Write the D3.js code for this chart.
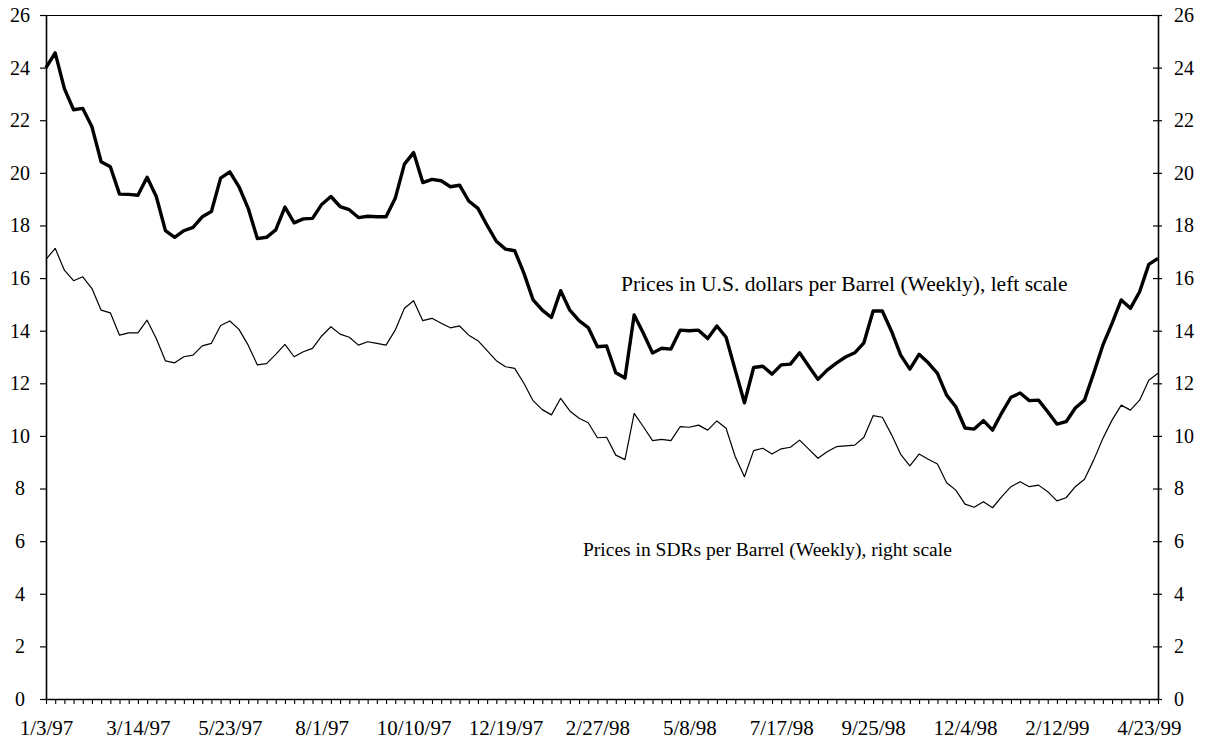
<!DOCTYPE html>
<html>
<head>
<meta charset="utf-8">
<script src="https://cdn.jsdelivr.net/npm/d3@7"></script>
<style>
  html, body { margin: 0; padding: 0; background: #fff; }
  svg { display: block; }
  text { font-family: "Liberation Serif", "Times New Roman", serif; fill: #000; }
</style>
</head>
<body>
<svg id="chart" width="1209" height="744"></svg>
<script>
// ---- data ----
const startDate = "1997-01-03";   // first weekly observation (Friday)
const weekCount = 122;            // weekly observations 1/3/97 .. 4/30/99

const usdPrices = [
  24.0, 24.56, 23.2, 22.4, 22.45, 21.75, 20.42, 20.23, 19.19, 19.18,
  19.15, 19.83, 19.1, 17.8, 17.55, 17.8, 17.93, 18.33, 18.53, 19.8,
  20.04, 19.47, 18.65, 17.5, 17.55, 17.83, 18.7, 18.1, 18.25, 18.27,
  18.8, 19.1, 18.72, 18.6, 18.3, 18.35, 18.33, 18.33, 19.03, 20.33,
  20.77, 19.63, 19.75, 19.7, 19.47, 19.53, 18.93, 18.65, 18.0, 17.4,
  17.1, 17.04, 16.19, 15.17, 14.78, 14.5, 15.52, 14.78, 14.38, 14.12,
  13.39, 13.42, 12.4, 12.2, 14.6, 13.9, 13.15, 13.33, 13.3, 14.02,
  14.0, 14.02, 13.7, 14.18, 13.75, 12.5, 11.26, 12.6, 12.65, 12.35,
  12.7, 12.73, 13.16, 12.65, 12.15, 12.5, 12.77, 13.0, 13.16, 13.54,
  14.75, 14.75, 13.98, 13.07, 12.54, 13.1, 12.78, 12.38, 11.55, 11.11,
  10.3, 10.26, 10.58, 10.22, 10.88, 11.47, 11.63, 11.34, 11.36, 10.92,
  10.45, 10.54, 11.06, 11.36, 12.38, 13.45, 14.28, 15.17, 14.85, 15.48,
  16.52, 16.75
];

const sdrPrices = [
  16.71, 17.13, 16.3, 15.9, 16.05, 15.6, 14.78, 14.68, 13.83, 13.92,
  13.92, 14.4, 13.7, 12.85, 12.78, 13.01, 13.07, 13.42, 13.52, 14.2,
  14.37, 14.05, 13.45, 12.7, 12.75, 13.1, 13.48, 13.01, 13.2, 13.33,
  13.8, 14.15, 13.87, 13.75, 13.45, 13.58, 13.52, 13.45, 14.02, 14.85,
  15.14, 14.38, 14.47, 14.28, 14.11, 14.18, 13.83, 13.62, 13.24, 12.86,
  12.63, 12.57, 12.0, 11.34, 11.0, 10.8, 11.43, 10.95, 10.67, 10.5,
  9.93, 9.95, 9.27, 9.1, 10.86, 10.35, 9.82, 9.87, 9.82, 10.35,
  10.33, 10.41, 10.22, 10.57, 10.29, 9.21, 8.45, 9.44, 9.53, 9.31,
  9.51, 9.57, 9.84, 9.5, 9.15, 9.4, 9.59, 9.62, 9.65, 9.95,
  10.77, 10.71, 10.05, 9.3, 8.86, 9.31, 9.11, 8.93, 8.22, 7.94,
  7.41, 7.29, 7.5, 7.27, 7.69, 8.07, 8.26, 8.07, 8.13, 7.88,
  7.53, 7.65, 8.07, 8.35, 9.08, 9.9, 10.6, 11.17, 10.98, 11.36,
  12.12, 12.38
];

const xTickLabels = ["1/3/97", "3/14/97", "5/23/97", "8/1/97", "10/10/97", "12/19/97",
  "2/27/98", "5/8/98", "7/17/98", "9/25/98", "12/4/98", "2/12/99", "4/23/99"];
const yTicks = [0, 2, 4, 6, 8, 10, 12, 14, 16, 18, 20, 22, 24, 26];

const usdLabel = "Prices in U.S. dollars per Barrel (Weekly), left scale";
const sdrLabel = "Prices in SDRs per Barrel (Weekly), right scale";

// ---- layout ----
const svg = d3.select("#chart");
const plotL = 46, plotR = 1158, plotT = 15, plotB = 699;

const start = d3.timeParse("%Y-%m-%d")(startDate);
const weeks = d3.range(weekCount).map(i => d3.timeWeek.offset(start, i));
const parseLabel = d3.timeParse("%m/%d/%y");

const x = d3.scaleTime().domain([weeks[0], weeks[weeks.length - 1]]).range([plotL, plotR]);
const yL = d3.scaleLinear().domain([0, 26]).range([plotB, plotT]);
const yR = d3.scaleLinear().domain([0, 26]).range([plotB, plotT]);

// plot frame (top border)
svg.append("line").attr("x1", plotL).attr("x2", plotR).attr("y1", plotT + 0.5).attr("y2", plotT + 0.5)
  .attr("stroke", "#000").attr("stroke-width", 1.2);

// left axis
const gL = svg.append("g").attr("transform", `translate(${plotL},0)`)
  .call(d3.axisLeft(yL).tickValues(yTicks).tickSize(6).tickSizeOuter(0).tickFormat(d3.format("d")));
gL.select(".domain").attr("stroke-width", 1.6);
gL.selectAll(".tick line").attr("stroke-width", 1.2);
gL.selectAll(".tick text").attr("font-size", 20).attr("text-anchor", "middle").attr("x", -26)
  .attr("font-family", "Liberation Serif");

// right axis (ticks crossing the axis)
const gR = svg.append("g").attr("transform", `translate(${plotR},0)`)
  .call(d3.axisRight(yR).tickValues(yTicks).tickSize(4).tickSizeOuter(0).tickFormat(d3.format("d")));
gR.select(".domain").attr("stroke-width", 1.6);
gR.selectAll(".tick line").attr("x1", -5).attr("x2", 4).attr("stroke-width", 1.2);
gR.selectAll(".tick text").attr("font-size", 20).attr("text-anchor", "start").attr("x", 16)
  .attr("font-family", "Liberation Serif");

// bottom axis: weekly ticks + labels
const gB = svg.append("g").attr("transform", `translate(0,${plotB})`)
  .call(d3.axisBottom(x).tickValues(weeks).tickSize(5).tickSizeOuter(0).tickFormat(""));
gB.select(".domain").attr("stroke-width", 1.6);
gB.selectAll(".tick line").attr("stroke-width", 1.1);

const gBL = svg.append("g").attr("transform", `translate(0,${plotB})`)
  .call(d3.axisBottom(x).tickValues(xTickLabels.map(parseLabel)).tickSize(0)
    .tickFormat((d, i) => xTickLabels[i]));
gBL.select(".domain").remove();
gBL.selectAll(".tick text").attr("font-size", 21).attr("dy", 0).attr("y", 36)
  .attr("font-family", "Liberation Serif");

// lines
const lineL = d3.line().x((d, i) => x(weeks[i])).y(d => yL(d));
const lineR = d3.line().x((d, i) => x(weeks[i])).y(d => yR(d));

svg.append("path").datum(sdrPrices).attr("d", lineR)
  .attr("fill", "none").attr("stroke", "#000").attr("stroke-width", 1.2).attr("stroke-linejoin", "round");
svg.append("path").datum(usdPrices).attr("d", lineL)
  .attr("fill", "none").attr("stroke", "#000").attr("stroke-width", 3.4).attr("stroke-linejoin", "round");

// annotations
svg.append("text").attr("x", 621).attr("y", 291).attr("font-size", 21.5).text(usdLabel);
svg.append("text").attr("x", 583).attr("y", 556).attr("font-size", 19.5).text(sdrLabel);
</script>
</body>
</html>
